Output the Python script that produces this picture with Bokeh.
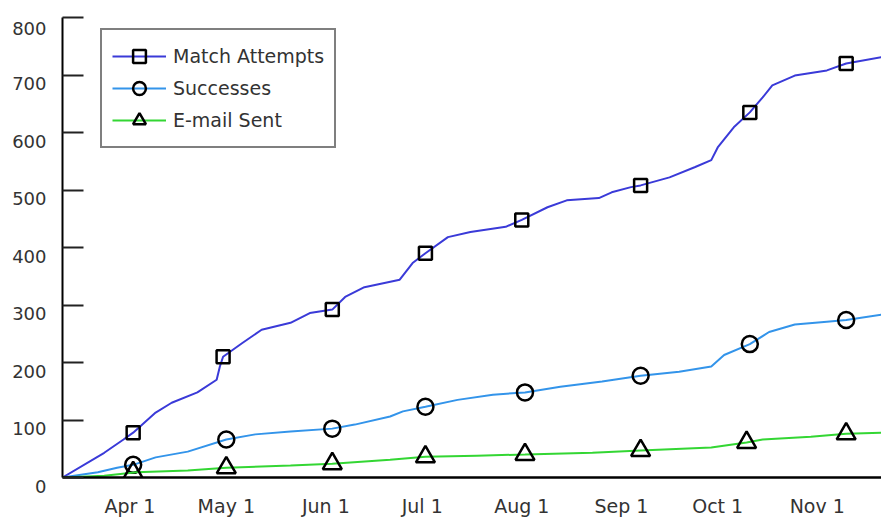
import numpy as np
import pandas as pd
from bokeh.plotting import figure
from bokeh.models import Range1d, FixedTicker, Legend
from bokeh.embed import file_html
from bokeh.resources import INLINE

# ---------------- data ----------------
MATCH_DATES = ["2002-03-11", "2002-03-24", "2002-03-30", "2002-04-02", "2002-04-09", "2002-04-14",
               "2002-04-22", "2002-04-28", "2002-04-29", "2002-04-30", "2002-05-06", "2002-05-12",
               "2002-05-21", "2002-05-27", "2002-06-03", "2002-06-07", "2002-06-13", "2002-06-24",
               "2002-06-28", "2002-07-02", "2002-07-09", "2002-07-16", "2002-07-27", "2002-08-01",
               "2002-08-09", "2002-08-15", "2002-08-25", "2002-08-29", "2002-09-04", "2002-09-07",
               "2002-09-16", "2002-09-24", "2002-09-29", "2002-10-01", "2002-10-06", "2002-10-11",
               "2002-10-15", "2002-10-18", "2002-10-25", "2002-11-04", "2002-11-10", "2002-11-21"]
MATCH_VALUES = [0, 43, 66, 78, 113, 130,
                148, 170, 193, 210, 234, 257,
                269, 286, 292, 314, 331, 344,
                373, 390, 418, 427, 436, 448,
                470, 482, 486, 496, 505, 508,
                522, 540, 552, 574, 609, 635,
                661, 682, 699, 708, 720, 731]

SUCCESS_DATES = ["2002-03-11", "2002-03-22", "2002-03-28", "2002-04-02", "2002-04-09", "2002-04-19",
                 "2002-05-01", "2002-05-10", "2002-05-21", "2002-06-03", "2002-06-10", "2002-06-21",
                 "2002-06-25", "2002-07-02", "2002-07-12", "2002-07-23", "2002-08-02", "2002-08-13",
                 "2002-08-26", "2002-09-07", "2002-09-19", "2002-09-29", "2002-10-03", "2002-10-11",
                 "2002-10-17", "2002-10-25", "2002-11-04", "2002-11-10", "2002-11-21"]
SUCCESS_VALUES = [0, 9, 17, 22, 35, 45,
                  66, 75, 80, 85, 92, 106,
                  115, 123, 135, 144, 148, 158,
                  167, 177, 184, 193, 213, 232,
                  253, 266, 271, 274, 283]

EMAIL_DATES = ["2002-03-11", "2002-03-24", "2002-04-03", "2002-04-19", "2002-05-01", "2002-05-21",
               "2002-06-03", "2002-06-21", "2002-07-02", "2002-07-18", "2002-08-02", "2002-08-23",
               "2002-09-07", "2002-09-29", "2002-10-10", "2002-10-15", "2002-10-30", "2002-11-10",
               "2002-11-21"]
EMAIL_VALUES = [0, 3, 9, 12, 17, 21,
                24, 31, 36, 38, 40, 43,
                47, 52, 61, 66, 71, 76,
                78]

MATCH_MARKER_DATES = ["2002-04-02", "2002-04-30", "2002-06-03", "2002-07-02",
                      "2002-08-01", "2002-09-07", "2002-10-11", "2002-11-10"]
SUCCESS_MARKER_DATES = ["2002-04-02", "2002-05-01", "2002-06-03", "2002-07-02",
                        "2002-08-02", "2002-09-07", "2002-10-11", "2002-11-10"]
EMAIL_MARKER_DATES = ["2002-04-02", "2002-05-01", "2002-06-03", "2002-07-02",
                      "2002-08-02", "2002-09-07", "2002-10-10", "2002-11-10"]

X_TICK_DATES = ["2002-04-01", "2002-05-01", "2002-06-01", "2002-07-01",
                "2002-08-01", "2002-09-01", "2002-10-01", "2002-11-01"]
X_TICK_LABELS = ["Apr 1", "May 1", "Jun 1", "Jul 1", "Aug 1", "Sep 1", "Oct 1", "Nov 1"]
Y_TICKS = [0, 100, 200, 300, 400, 500, 600, 700, 800]
Y_TICK_LABELS = ["0", "100", "200", "300", "400", "500", "600", "700", "800"]

SERIES_NAMES = ["Match Attempts", "Successes", "E-mail Sent"]

# ---------------- helpers ----------------
def to_dt(lst):
    return pd.to_datetime(lst)

def to_ms(lst):
    return [float(pd.Timestamp(d).value // 10**6) for d in lst]

def marker_vals(mdates, dates, vals):
    return np.interp(to_ms(mdates), to_ms(dates), vals)

FONT = "DejaVu Sans"
TXT = "#333333"

all_dates = MATCH_DATES + SUCCESS_DATES + EMAIL_DATES
x0 = pd.Timestamp(min(all_dates))
x1 = pd.Timestamp(max(all_dates))
y0, y1 = min(Y_TICKS), max(Y_TICKS)

p = figure(width=881, height=519, x_axis_type="datetime",
           x_range=Range1d(x0, x1), y_range=Range1d(y0, y1),
           output_backend="svg", toolbar_location=None,
           min_border_left=62, min_border_right=0, min_border_top=17, min_border_bottom=41)
p.background_fill_color = "white"
p.border_fill_color = "white"
p.outline_line_color = None
p.xgrid.visible = False
p.ygrid.visible = False

series = [
    (MATCH_DATES, MATCH_VALUES, MATCH_MARKER_DATES, "#3a3ad8", "square", 13, 2.5),
    (SUCCESS_DATES, SUCCESS_VALUES, SUCCESS_MARKER_DATES, "#3394ea", "circle", 16, 2.5),
    (EMAIL_DATES, EMAIL_VALUES, EMAIL_MARKER_DATES, "#33d633", "triangle", 19, 2.5),
]

items = []
for name, (d, v, md, col, mk, sz, lw) in zip(SERIES_NAMES, series):
    r1 = p.line(to_dt(d), v, line_color=col, line_width=2)
    r2 = p.scatter(to_dt(md), marker_vals(md, d, v), marker=mk, size=sz,
                   line_color="black", line_width=lw, fill_alpha=0)
    items.append((name, [r1, r2]))

legend = Legend(items=items, location=(38, 329))
legend.label_text_font = FONT
legend.label_text_font_size = "19px"
legend.label_text_color = TXT
legend.border_line_color = "black"
legend.border_line_width = 2
legend.background_fill_color = "white"
legend.background_fill_alpha = 1.0
legend.padding = 10
legend.margin = 0
legend.spacing = 0
legend.glyph_width = 54
legend.glyph_height = 32
legend.label_height = 32
legend.label_standoff = 7
p.add_layout(legend, "center")

# x axis
xa = p.xaxis[0]
xa.ticker = FixedTicker(ticks=to_ms(X_TICK_DATES))
xa.major_label_overrides = {t: lab for t, lab in zip(to_ms(X_TICK_DATES), X_TICK_LABELS)}
xa.major_tick_in = 0
xa.major_tick_out = 0
xa.minor_tick_in = 0
xa.minor_tick_out = 0
xa.axis_line_width = 2.5
xa.axis_line_color = "black"
xa.major_label_standoff = 17
xa.major_label_text_font = FONT
xa.major_label_text_font_size = "19px"
xa.major_label_text_color = TXT

# y axis: inner ticks; labels set a little below their ticks (two-line label, first line empty)
ya = p.yaxis[0]
ya.ticker = FixedTicker(ticks=Y_TICKS)
ya.major_label_overrides = {t: "\n" + lab for t, lab in zip(Y_TICKS, Y_TICK_LABELS)}
ya.major_tick_in = 21
ya.major_tick_out = 0
ya.minor_tick_in = 0
ya.minor_tick_out = 0
ya.major_tick_line_width = 2
ya.major_tick_line_color = "#222222"
ya.axis_line_width = 2
ya.axis_line_color = "black"
ya.major_label_standoff = 16
ya.major_label_text_font = FONT
ya.major_label_text_font_size = "18px"
ya.major_label_text_line_height = 0.85
ya.major_label_text_color = TXT

open("out.html", "w").write(file_html(p, INLINE))
